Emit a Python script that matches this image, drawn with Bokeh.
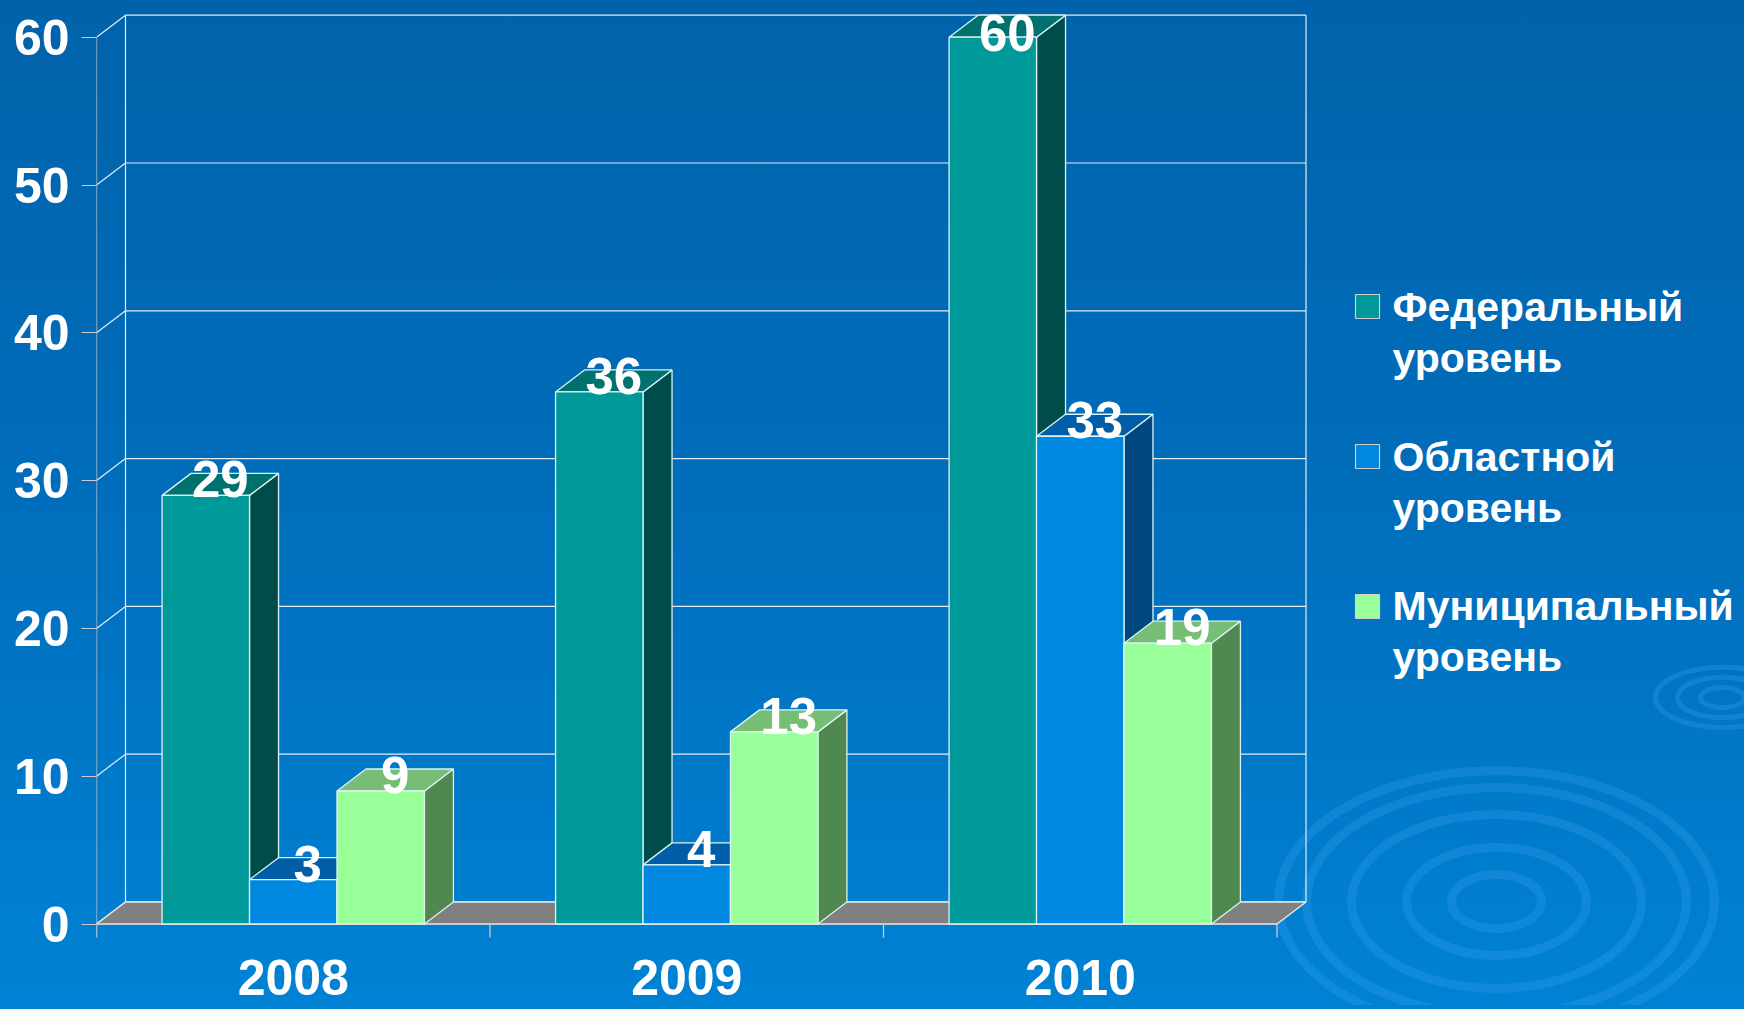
from bokeh.plotting import figure
from bokeh.models import Range1d, FixedTicker
from bokeh.core.properties import value
from bokeh.embed import file_html
from bokeh.resources import INLINE

# ---------------- data ----------------
years = ["2008", "2009", "2010"]
federal = [29, 36, 60]
oblast = [3, 4, 33]
municipal = [9, 13, 19]
series_labels = ["Федеральный\nуровень", "Областной\nуровень", "Муниципальный\nуровень"]
y_ticks = [0, 10, 20, 30, 40, 50, 60]

# ---------------- style ----------------
FRONT = ["#009999", "#0088E0", "#99FF99"]
TOP = ["#00716E", "#005DA8", "#76BE76"]
SIDE = ["#004C4A", "#00477F", "#4F894F"]
EDGE = "#DDF2F2"
GRID = "#E4ECF4"
AXC = "#C8CCD0"
FONT = "Liberation Sans"
GRAD = "linear-gradient(to bottom, #0062AA 0%, #006EBC 50%, #0082D4 100%)"

W, H = 1744, 1005
LEFT = 96
PPX = 393.5      # pixels per category
PPY = 14.78      # pixels per value unit
Y0 = 923.5       # figure pixel row of value 0
X_END = (W - LEFT) / PPX
Y_END = Y0 / PPY
Y_START = -(H - Y0) / PPY
DX = 29 / PPX    # depth offset (x, data units)
DY = 22 / PPY    # depth offset (y, data units)
BW = 2 / 9       # bar width
GAP = 1 / 6      # half gap
NCAT = len(years)
YMAX = y_ticks[-1]


def rx(px):
    return (px - LEFT) / PPX


def ry(py):
    return (Y0 - py) / PPY


LABEL_YLIM = ry(37)   # keep value labels inside the chart area

p = figure(width=W, height=H, x_range=Range1d(0, X_END), y_range=Range1d(Y_START, Y_END),
           output_backend="svg", toolbar_location=None,
           min_border_left=LEFT, min_border_right=0, min_border_top=0, min_border_bottom=0)
p.background_fill_alpha = 0
p.border_fill_alpha = 0
p.outline_line_color = None
p.grid.visible = False
p.xaxis.visible = False

try:
    from bokeh.models import GlobalInlineStyleSheet
    p.stylesheets = [GlobalInlineStyleSheet(css="html, body { background: %s fixed; }" % GRAD)]
except Exception:
    p.styles = {"background": GRAD}

yax = p.yaxis[0]
yax.ticker = FixedTicker(ticks=y_ticks)
yax.axis_line_color = None
yax.major_tick_line_color = AXC
yax.major_tick_line_width = 1.2
yax.major_tick_out = 15
yax.major_tick_in = 0
yax.minor_tick_line_color = None
yax.major_label_text_font = FONT
yax.major_label_text_font_size = "50px"
yax.major_label_text_font_style = "bold"
yax.major_label_text_color = "white"
yax.major_label_standoff = 12

# ---------------- background ripples (slide decoration) ----------------
rip_r = [45, 90, 145, 190, 218]
p.ellipse(x=[rx(1496)] * len(rip_r), y=[ry(901)] * len(rip_r),
          width=[2 * r / PPX for r in rip_r], height=[1.2 * r / PPY for r in rip_r],
          fill_color=None, line_color="#3FA6F2", line_alpha=0.25, line_width=9)
rip_s = [22, 45, 67]
p.ellipse(x=[rx(1722)] * len(rip_s), y=[ry(697)] * len(rip_s),
          width=[2 * r / PPX for r in rip_s], height=[0.9 * r / PPY for r in rip_s],
          fill_color=None, line_color="#3FA6F2", line_alpha=0.28, line_width=5)

# ---------------- back walls & grid ----------------
gx, gy = [], []
for t in y_ticks:
    gx.append([0, DX, NCAT + DX])
    gy.append([t, t + DY, t + DY])
gx.append([DX, DX]); gy.append([DY, YMAX + DY])
gx.append([NCAT + DX, NCAT + DX]); gy.append([DY, YMAX + DY])
p.multi_line(gx, gy, line_color=GRID, line_width=1.2)

# floor
p.patch([0, NCAT, NCAT + DX, DX], [0, 0, DY, DY], fill_color="#808080",
        line_color="#E8E8E8", line_width=1.5)

# front axis lines and category ticks
ax_x = [[0, 0], [0, NCAT]]
ax_y = [[-0.92, YMAX], [0, 0]]
for i in range(NCAT + 1):
    ax_x.append([i, i]); ax_y.append([0, -0.92])
p.multi_line(ax_x, ax_y, line_color=AXC, line_width=1.3)

# ---------------- bars ----------------
all_series = [federal, oblast, municipal]
side_xs, side_ys, side_c = [], [], []
top_xs, top_ys, top_c = [], [], []
fx, fv, fc = [], [], []
lx, ly, lt = [], [], []
for i in range(NCAT):
    for j, s in enumerate(all_series):
        v = s[i]
        x0 = i + GAP + j * BW
        x1 = x0 + BW
        side_xs.append([x1, x1 + DX, x1 + DX, x1]); side_ys.append([0, DY, v + DY, v]); side_c.append(SIDE[j])
        top_xs.append([x0, x1, x1 + DX, x0 + DX]); top_ys.append([v, v, v + DY, v + DY]); top_c.append(TOP[j])
        fx.append(x0 + BW / 2); fv.append(v); fc.append(FRONT[j])
        lx.append(x0 + BW / 2 + DX / 2); ly.append(min(v + DY / 2, LABEL_YLIM)); lt.append(str(v))

p.patches(side_xs, side_ys, fill_color=side_c, line_color=EDGE, line_width=1.3)
p.patches(top_xs, top_ys, fill_color=top_c, line_color=EDGE, line_width=1.3)
p.vbar(x=fx, top=fv, bottom=0, width=BW, fill_color=fc, line_color=EDGE, line_width=1.3)

p.text(x=lx, y=ly, text=lt, text_font=value(FONT), text_font_style="bold",
       text_font_size="51px", text_color="white", text_align="center",
       text_baseline="middle", y_offset=-5)

# category labels
p.text(x=[i + 0.5 for i in range(NCAT)], y=[ry(977)] * NCAT, text=years,
       text_font=value(FONT), text_font_style="bold", text_font_size="50px",
       text_color="white", text_align="center", text_baseline="middle")

# ---------------- legend ----------------
p.scatter(x=[rx(1367)] * 3, y=[ry(306), ry(456), ry(606)], marker="square", size=24,
          fill_color=FRONT, line_color="#D0D0D0", line_width=1.2)
p.text(x=[rx(1392)] * 3, y=[ry(332), ry(482), ry(631)], text=series_labels,
       text_font=value(FONT), text_font_style="bold", text_font_size="41px",
       text_color="white", text_align="left", text_baseline="middle", text_line_height=1.11)

open("out.html", "w").write(file_html(p, INLINE))
